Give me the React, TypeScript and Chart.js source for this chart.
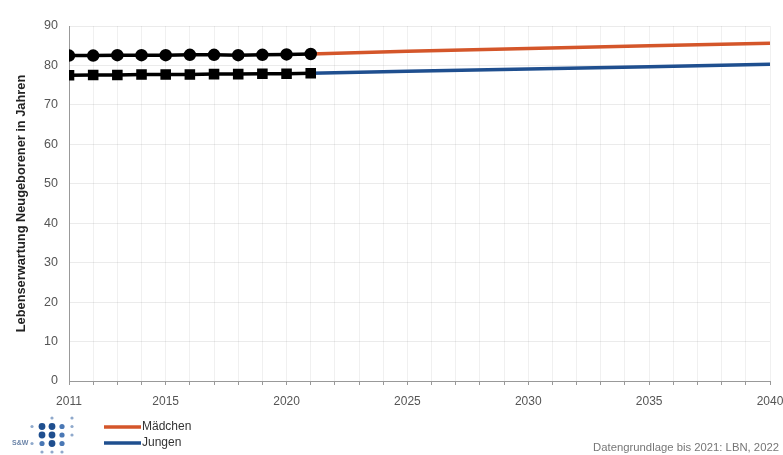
import React, { useEffect, useRef } from "react";
import { Chart, registerables } from "chart.js";

Chart.register(...registerables);

// Observed years and life expectancy at birth (years)
const histYears = [2011, 2012, 2013, 2014, 2015, 2016, 2017, 2018, 2019, 2020, 2021];
const histGirls = [82.5, 82.5, 82.6, 82.6, 82.6, 82.7, 82.7, 82.6, 82.7, 82.8, 82.9];
const histBoys = [77.5, 77.6, 77.6, 77.7, 77.7, 77.7, 77.8, 77.8, 77.9, 77.9, 78.0];

// Projection
const projYears = [2021, 2025, 2030, 2035, 2040];
const projGirls = [82.9, 83.6, 84.3, 85.0, 85.6];
const projBoys = [78.0, 78.5, 79.1, 79.7, 80.3];

const xLabelYears = [2011, 2015, 2020, 2025, 2030, 2035, 2040];
const yTicks = [0, 10, 20, 30, 40, 50, 60, 70, 80, 90];

const legendItems = ["Mädchen", "Jungen"];
const sourceText = "Datengrundlage bis 2021: LBN, 2022";
const yTitle = "Lebenserwartung Neugeborener in Jahren";

const ORANGE = "#d4562a";
const BLUE = "#1f4f8f";
const FONT = "'Liberation Sans', Arial, sans-serif";

// Dot-matrix emblem: rows of [size] per column (0 = none)
const logoRows = [
  [0, 0, 1, 0, 1],
  [1, 3, 3, 2, 1],
  [0, 3, 3, 2, 1],
  [1, 2, 3, 2, 0],
  [0, 1, 1, 1, 0],
];

const toPoints = (xs: number[], ys: number[]) => xs.map((x, i) => ({ x, y: ys[i] }));

const footerPlugin = {
  id: "footer",
  afterDraw(chart: any) {
    const ctx = chart.ctx as CanvasRenderingContext2D;
    ctx.save();
    // legend
    const colors = [ORANGE, BLUE];
    legendItems.forEach((label, i) => {
      const y = 427 + i * 16;
      ctx.strokeStyle = colors[i];
      ctx.lineWidth = 3.5;
      ctx.beginPath();
      ctx.moveTo(104, y);
      ctx.lineTo(141, y);
      ctx.stroke();
      ctx.fillStyle = "#333";
      ctx.font = `12px ${FONT}`;
      ctx.textBaseline = "middle";
      ctx.textAlign = "left";
      ctx.fillText(label, 142, y);
    });
    // source note
    ctx.fillStyle = "#777";
    ctx.font = `11.3px ${FONT}`;
    ctx.textAlign = "right";
    ctx.fillText(sourceText, 779, 448);
    // emblem
    logoRows.forEach((row, r) => {
      row.forEach((s, c) => {
        if (!s) return;
        const cx = 32 + c * 10;
        const cy = 418 + r * 8.5;
        ctx.fillStyle = s === 3 ? "#1f4f8f" : s === 2 ? "#4a78b5" : "#8fa9cc";
        ctx.beginPath();
        ctx.arc(cx, cy, s === 3 ? 3.4 : s === 2 ? 2.6 : 1.6, 0, Math.PI * 2);
        ctx.fill();
      });
    });
    ctx.fillStyle = "#6b84a8";
    ctx.font = `bold 7px ${FONT}`;
    ctx.textAlign = "left";
    ctx.fillText("S&W", 12, 443.5);
    ctx.restore();
  },
};

export default function App() {
  const ref = useRef<HTMLCanvasElement>(null);

  useEffect(() => {
    document.body.style.margin = "0";
    const chart = new Chart(ref.current!, {
      type: "line",
      data: {
        datasets: [
          {
            label: "Mädchen Prognose",
            data: toPoints(projYears, projGirls),
            borderColor: ORANGE,
            borderWidth: 3.5,
            pointRadius: 0,
            order: 3,
          },
          {
            label: "Jungen Prognose",
            data: toPoints(projYears, projBoys),
            borderColor: BLUE,
            borderWidth: 3.5,
            pointRadius: 0,
            order: 4,
          },
          {
            label: "Mädchen",
            data: toPoints(histYears, histGirls),
            borderColor: "#000",
            backgroundColor: "#000",
            borderWidth: 3.5,
            pointRadius: 4.5,
            pointStyle: "circle",
            order: 1,
          },
          {
            label: "Jungen",
            data: toPoints(histYears, histBoys),
            borderColor: "#000",
            backgroundColor: "#000",
            borderWidth: 3.5,
            pointRadius: 5,
            pointStyle: "rect",
            order: 2,
          },
        ],
      },
      options: {
        animation: false,
        responsive: false,
        maintainAspectRatio: false,
        layout: { padding: { top: 26, right: 13, bottom: 44, left: 0 } },
        plugins: { legend: { display: false }, tooltip: { enabled: false } },
        scales: {
          x: {
            type: "linear",
            min: 2011,
            max: 2040,
            afterFit: (s: any) => {
              s.height = 30;
              s.paddingLeft = 0;
              s.paddingRight = 0;
            },
            grid: {
              color: "rgba(0,0,0,0.06)",
              tickColor: "#999",
              tickLength: 4,
              drawOnChartArea: true,
            },
            border: { color: "#999", width: 1 },
            ticks: {
              stepSize: 1,
              autoSkip: false,
              maxRotation: 0,
              padding: 9,
              color: "#555",
              font: { family: FONT, size: 12 },
              callback: (v: any) => (xLabelYears.includes(Number(v)) ? String(v) : ""),
            },
          },
          y: {
            min: 0,
            max: 90,
            afterFit: (s: any) => {
              s.width = 69;
              s.paddingTop = 0;
              s.paddingBottom = 0;
            },
            afterBuildTicks: (s: any) => {
              s.ticks = yTicks.map((v) => ({ value: v }));
            },
            grid: { color: "rgba(0,0,0,0.08)", drawTicks: false },
            border: { color: "#999", width: 1 },
            title: {
              display: true,
              text: yTitle,
              color: "#222",
              font: { family: FONT, size: 12.8, weight: "bold" },
              padding: { top: 14, bottom: 0 },
            },
            ticks: {
              padding: 11,
              color: "#555",
              font: { family: FONT, size: 12.5 },
            },
          },
        },
      },
      plugins: [footerPlugin],
    });
    return () => chart.destroy();
  }, []);

  return (
    <div style={{ width: 783, height: 455, background: "#fff" }}>
      <canvas ref={ref} width={783} height={455} style={{ display: "block" }} />
    </div>
  );
}
